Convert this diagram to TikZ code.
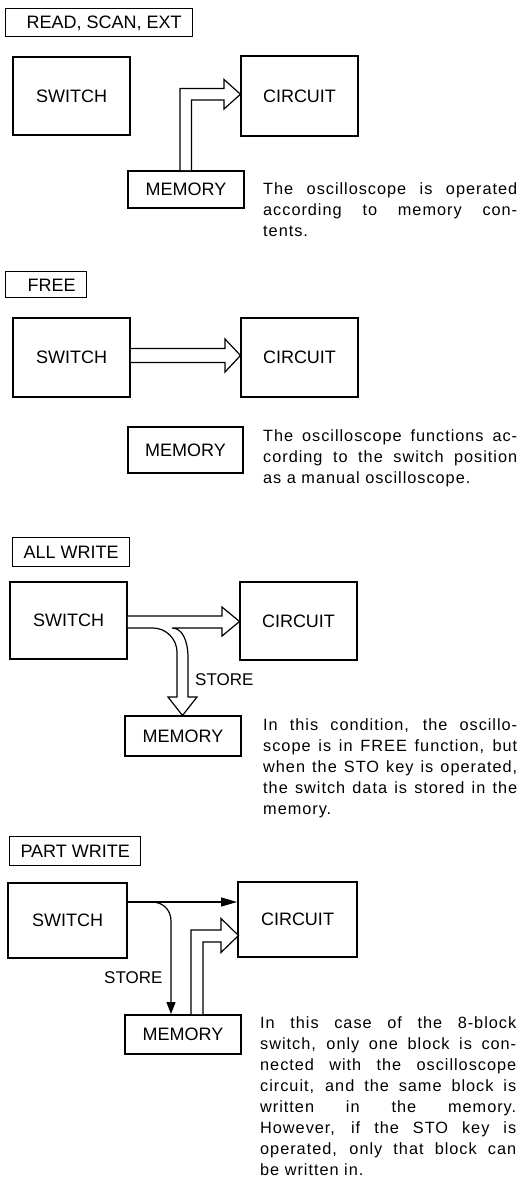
\documentclass[tikz,border=0pt]{standalone}
\usepackage{fontspec}
\setmainfont{Liberation Sans}
\newfontfamily\bodyfont[LetterSpace=6]{Liberation Sans}
\usetikzlibrary{arrows.meta,calc}

\begin{document}
\begin{tikzpicture}[x=1pt,y=-1pt,
  blk/.style={draw,line width=1.9pt,rectangle,inner sep=0pt,
    font=\fontsize{18}{20}\selectfont,text height=12.9pt,text depth=0pt},
  tag/.style={draw,line width=1.1pt,anchor=north west,inner xsep=11pt,inner ysep=0pt,
    font=\fontsize{18}{20}\selectfont,text height=12.9pt,text depth=0pt},
  flow/.style={draw,line width=1.2pt,fill=white,line join=miter},
  wire/.style={line width=1.2pt},
  note/.style={anchor=base west,inner sep=0pt,text width=254pt,align=justify,
    font=\bodyfont\fontsize{16.3}{21}\selectfont},
  lbl/.style={anchor=base west,inner sep=0pt,font=\fontsize{17}{20}\selectfont}
]
\useasboundingbox (0,0) rectangle (520,1177);

% ---------- READ, SCAN, EXT ----------
\node[tag,minimum height=28pt] (t1) at (5,8) {\hspace*{10pt}READ, SCAN, EXT};
\node[blk,minimum width=117pt,minimum height=78pt] (sw1) at (71.5,96) {SWITCH};
\node[blk,minimum width=117pt,minimum height=80pt] (ci1) at (299.5,96) {CIRCUIT};
\node[blk,minimum width=116pt,minimum height=37pt] (me1) at (186,189.5) {MEMORY};
\draw[flow] ($(me1.north)+(-6,0)$) -- (180,88.5) -- (224,88.5) -- (224,79.5)
  -- (240.5,94.25) -- (224,109) -- (224,100) -- (191.5,100) -- ($(me1.north)+(5.5,0)$);
\node[note] (n1) at (263,194) {\tolerance=10000\hbadness=10000
  The oscilloscope is operated\linebreak according to memory con-\linebreak tents.};

% ---------- FREE ----------
\node[tag,minimum height=26pt] (t2) at (5,271) {\hspace*{11pt}FREE};
\node[blk,minimum width=117pt,minimum height=79pt] (sw2) at (71.5,357.5) {SWITCH};
\node[blk,minimum width=117pt,minimum height=79pt] (ci2) at (299.5,357.5) {CIRCUIT};
\node[blk,minimum width=115pt,minimum height=46pt] (me2) at (185.5,450) {MEMORY};
\draw[flow] ($(sw2.east)+(0,-9)$) -- (225,348.5) -- (225,339) -- (240.5,355.5)
  -- (225,372) -- (225,362.5) -- ($(sw2.east)+(0,5)$);
\node[note] (n2) at (263,441.5) {\tolerance=10000\hbadness=10000
  The oscilloscope functions ac-\linebreak cording to the switch position\linebreak as a manual oscilloscope.};

% ---------- ALL WRITE ----------
\node[tag,minimum height=29pt] (t3) at (12,537) {ALL WRITE};
\node[blk,minimum width=117pt,minimum height=77pt] (sw3) at (68.5,620.5) {SWITCH};
\node[blk,minimum width=117pt,minimum height=78pt] (ci3) at (298.5,621) {CIRCUIT};
\node[blk,minimum width=116pt,minimum height=40pt] (me3) at (183,736) {MEMORY};
\draw[flow] ($(sw3.east)+(0,-4.5)$) -- (222,616) -- (222,607) -- (239.5,621.5)
  -- (222,636) -- (222,628) -- (172,628)
  .. controls (182,628) and (188,640) .. (188,658) -- (188,697) -- (197,697)
  -- (182.5,715.5) -- (168,697) -- (177,697) -- (177,652)
  .. controls (177,639) and (166,628) .. (153,628) -- ($(sw3.east)+(0,7.5)$);
\node[lbl] (st3) at (195,685) {STORE};
\node[note] (n3) at (263,730) {\tolerance=10000\hbadness=10000
  In this condition, the oscillo-\linebreak scope is in FREE function, but\linebreak
  when the STO key is operated,\linebreak the switch data is stored in the\linebreak memory.};

% ---------- PART WRITE ----------
\node[tag,minimum height=29pt] (t4) at (9,836) {PART WRITE};
\node[blk,minimum width=119pt,minimum height=75pt] (sw4) at (67.5,920.5) {SWITCH};
\node[blk,minimum width=119pt,minimum height=75pt] (ci4) at (297.5,919.5) {CIRCUIT};
\node[blk,minimum width=116pt,minimum height=39pt] (me4) at (183,1034.5) {MEMORY};
\coordinate (r4) at (0,902);
\coordinate (d4) at (171,0);
\draw[wire,-{Triangle[length=16pt,width=9pt]}] (sw4.east |- r4) -- (ci4.west |- r4);
\draw[wire,-{Triangle[length=12pt,width=9pt]}] (152,902)
  .. controls (163,902) and (171,910) .. (171,921) -- (d4 |- me4.north);
\draw[flow] ($(me4.north)+(8,0)$) -- (191,930) -- (221,930) -- (221,918.5)
  -- (238.5,935.5) -- (221,952.5) -- (221,942) -- (203,942) -- ($(me4.north)+(20,0)$);
\node[lbl] (st4) at (104,983) {STORE};
\node[note,text width=256pt] (n4) at (260,1028) {\tolerance=10000\hbadness=10000
  In this case of the 8-block\linebreak switch, only one block is con-\linebreak
  nected with the oscilloscope\linebreak circuit, and the same block is\linebreak
  written in the memory.\linebreak However, if the STO key is\linebreak
  operated, only that block can\linebreak be written in.};
\end{tikzpicture}
\end{document}
